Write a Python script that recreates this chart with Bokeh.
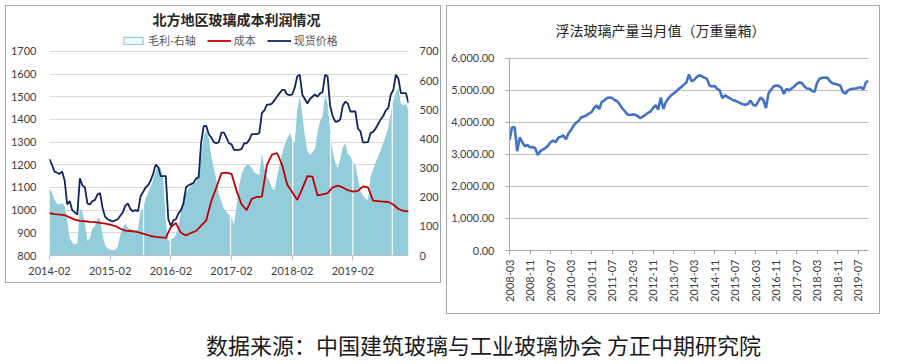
import numpy as np
from bokeh.plotting import figure
from bokeh.models import (Range1d, LinearAxis, FixedTicker, Legend, LegendItem,
                          NumeralTickFormatter, Label, Spacer)
from bokeh.layouts import row, column
from bokeh.embed import file_html
from bokeh.resources import INLINE

# ---------------- Left chart data (semi-monthly samples from 2014-02) ----------------
price = [1225, 1200, 1170, 1165, 1160, 1170, 1130, 1025, 1040, 1000,
         990, 980, 1140, 1110, 1100, 1030, 1025, 1040, 1045, 1070,
         1075, 1010, 970, 960, 955, 950, 955, 960, 975, 990,
         1020, 1030, 1005, 995, 1000, 995, 1060, 1080, 1100, 1110,
         1130, 1160, 1200, 1190, 1150, 1150, 1150, 960, 930, 955,
         960, 985, 1000, 1030, 1100, 1110, 1115, 1120, 1140, 1145,
         1300, 1370, 1372, 1335, 1320, 1300, 1295, 1300, 1342, 1342,
         1320, 1295, 1290, 1266, 1266, 1266, 1270, 1295, 1295, 1310,
         1335, 1335, 1335, 1340, 1428, 1440, 1465, 1465, 1470, 1485,
         1500, 1516, 1530, 1530, 1510, 1507, 1510, 1540, 1590, 1597,
         1509, 1490, 1470, 1490, 1500, 1510, 1500, 1515, 1520, 1597,
         1590, 1460, 1415, 1391, 1391, 1400, 1460, 1478, 1470, 1435,
         1435, 1435, 1360, 1347, 1299, 1299, 1300, 1340, 1345, 1360,
         1380, 1400, 1415, 1440, 1450, 1510, 1530, 1597, 1580, 1516,
         1516, 1516, 1472]

profit = [231, 215, 190, 178, 175, 180, 170, 120, 60, 45,
          38, 42, 160, 150, 110, 50, 60, 94, 100, 128,
          125, 70, 35, 25, 20, 18, 20, 30, 70, 95,
          110, 95, 90, 88, 85, 90, 150, 165, 195, 215,
          235, 260, 290, 305, 300, 260, 120, 50, 55, 60,
          70, 100, 150, 205, 215, 230, 240, 245, 250, 290,
          340, 410, 430, 400, 340, 300, 260, 210, 185, 160,
          150, 140, 130, 105, 170, 240, 280, 300, 310, 310,
          300, 285, 280, 275, 350, 300, 270, 255, 230, 225,
          270, 310, 350, 380, 400, 420, 400, 385, 500, 550,
          480, 410, 360, 345, 355, 365, 420, 460, 480, 550,
          520, 430, 360, 320, 300, 330, 370, 385, 350, 340,
          320, 310, 265, 220, 205, 195, 190, 270, 295, 320,
          340, 360, 385, 410, 440, 490, 530, 560, 575, 520,
          515, 520, 500]

# monthly cost from 2014-02
cost = [987, 982, 980, 978, 968, 958, 953, 951, 948, 947,
        944, 941, 936, 930, 918, 910, 908, 905, 900, 893,
        886, 882, 880, 878, 925, 943, 900, 888, 900, 908,
        932, 955, 1040, 1100, 1163, 1165, 1160, 1085, 1025, 1000,
        1050, 1058, 1060, 1200, 1245, 1252, 1200, 1113, 1080, 1045,
        1095, 1150, 1148, 1065, 1070, 1075, 1100, 1108, 1100, 1088,
        1082, 1085, 1105, 1100, 1042, 1040, 1038, 1036, 1025, 1005,
        997, 995]

# months (since 2014-02) of holiday weeks with no profit quote
profit_gap_months = [18.6, 23.9, 35.8, 48.1, 55.6, 60.0, 67.8]

left_tick_labels = ["2014-02", "2015-02", "2016-02", "2017-02", "2018-02", "2019-02"]

# ---------------- Right chart data (monthly from 2008-03) ----------------
output = [3450, 3850, 3850, 3100, 3530, 3380, 3250, 3300, 3220, 3230,
          3200, 2980, 3100, 3150, 3200, 3270, 3380, 3430, 3380, 3520,
          3550, 3590, 3470, 3660, 3760, 3900, 3990, 4050, 4160, 4180,
          4220, 4280, 4320, 4450, 4530, 4420, 4640, 4690, 4760, 4780,
          4760, 4700, 4660, 4560, 4430, 4350, 4250, 4230, 4250, 4240,
          4200, 4130, 4180, 4240, 4300, 4340, 4450, 4540, 4400, 4780,
          4420, 4640, 4750, 4840, 4900, 4960, 5050, 5100, 5180, 5250,
          5500, 5280, 5330, 5420, 5470, 5440, 5400, 5360, 5150, 5120,
          5140, 5050, 5000, 4760, 4840, 4800, 4750, 4700, 4680, 4640,
          4600, 4570, 4550, 4580, 4680, 4550, 4520, 4650, 4780, 4700,
          4450, 4900, 5020, 5120, 5150, 5140, 5080, 4890, 5050, 5000,
          5060, 5120, 5200, 5250, 5230, 5120, 5060, 5050, 4980, 4960,
          5250, 5370, 5390, 5400, 5390, 5280, 5220, 5200, 5180, 5150,
          4950, 4900, 5000, 5040, 5050, 5060, 5080, 5100, 5030, 5250,
          5300]

right_tick_labels = ["2008-03", "2008-11", "2009-07", "2010-03", "2010-11", "2011-07",
                     "2012-03", "2012-11", "2013-07", "2014-03", "2014-11", "2015-07",
                     "2016-03", "2016-11", "2017-07", "2018-03", "2018-11", "2019-07"]

CJK = "Noto Sans CJK SC"
NUM = "Lato"
LBL = "#404040"
BORDER = "#A6A6A6"

# ======================= Left figure =======================
# the plot frame reaches the top of the panel; the space above 1700 holds title and legend
t_half = np.arange(len(price)) * 0.5
t_month = np.arange(len(cost)) * 1.0
p1 = figure(width=436, height=278, output_backend="svg", toolbar_location=None,
            x_range=Range1d(0, t_half[-1]), y_range=Range1d(800, 1898),
            min_border_left=43, min_border_right=34, min_border_top=0, min_border_bottom=29)
p1.styles = {"border": "1px solid " + BORDER}
p1.outline_line_color = None

p1.extra_y_ranges = {"profit": Range1d(0, 854)}
p1.varea(x=t_half, y1=0, y2=profit, fill_color="#93CCDB", y_range_name="profit")
gap_top = np.interp(profit_gap_months, t_half, profit)
p1.segment(x0=profit_gap_months, y0=0, x1=profit_gap_months, y1=gap_top,
           line_color="white", line_width=1.2, y_range_name="profit")
cost_r = p1.line(t_month, cost, line_color="#C00000", line_width=1.8)
price_r = p1.line(t_half, price, line_color="#10245E", line_width=1.8)
dummy = p1.rect(x=[np.nan], y=[np.nan], width=1, height=1, fill_color="#F2F9FB",
                line_color="#93CCDB", line_width=1.2)

p1.xgrid.visible = False
p1.ygrid.grid_line_color = "#D9D9D9"
p1.ygrid.ticker = FixedTicker(ticks=list(range(800, 1701, 100)))

xa = p1.xaxis[0]
xa.ticker = FixedTicker(ticks=[12 * i for i in range(len(left_tick_labels))])
xa.major_label_overrides = {12 * i: s for i, s in enumerate(left_tick_labels)}
xa.axis_line_color = "#BFBFBF"
xa.major_tick_line_color = "#BFBFBF"
xa.major_tick_out = 5
xa.major_tick_in = 0
xa.minor_tick_line_color = None
xa.minor_tick_out = 0
xa.major_label_standoff = 6
xa.major_label_text_font = NUM
xa.major_label_text_font_size = "11px"
xa.major_label_text_color = LBL

ya = p1.yaxis[0]
ya.ticker = FixedTicker(ticks=list(range(800, 1701, 100)))
ya.axis_line_color = None
ya.major_tick_line_color = None
ya.minor_tick_line_color = None
ya.major_tick_out = 0
ya.minor_tick_out = 0
ya.major_label_standoff = 13
ya.major_label_text_font = NUM
ya.major_label_text_font_size = "11px"
ya.major_label_text_color = LBL

ra = LinearAxis(y_range_name="profit", ticker=FixedTicker(ticks=list(range(0, 701, 100))))
ra.axis_line_color = None
ra.major_tick_line_color = None
ra.minor_tick_line_color = None
ra.major_tick_out = 0
ra.minor_tick_out = 0
ra.major_label_standoff = 11
ra.major_label_text_font = NUM
ra.major_label_text_font_size = "11px"
ra.major_label_text_color = LBL
p1.add_layout(ra, "right")

p1.add_layout(Label(x=187, y=237, x_units="screen", y_units="screen",
                    text="北方地区玻璃成本利润情况", text_font=CJK,
                    text_font_size="14px", text_font_style="bold", text_color="#262626",
                    text_align="center", text_baseline="middle"))

legend = Legend(items=[LegendItem(label="毛利-右轴", renderers=[dummy]),
                       LegendItem(label="成本", renderers=[cost_r]),
                       LegendItem(label="现货价格", renderers=[price_r])],
                orientation="horizontal", location=(72, 207))
legend.label_text_font = CJK
legend.label_text_font_size = "11px"
legend.label_text_color = "#595959"
legend.glyph_width = 24
legend.glyph_height = 9
legend.label_height = 12
legend.label_standoff = 3
legend.spacing = 11
legend.padding = 0
legend.margin = 0
legend.border_line_color = None
legend.background_fill_alpha = 0
p1.add_layout(legend, "center")

# ======================= Right figure =======================
m = np.arange(len(output)) * 1.0
p2 = figure(width=434, height=309, output_backend="svg", toolbar_location=None,
            x_range=Range1d(0, m[-1]), y_range=Range1d(0, 7619),
            min_border_left=62, min_border_right=13, min_border_top=0, min_border_bottom=65)
p2.styles = {"border": "1px solid " + BORDER}
p2.outline_line_color = None

p2.line(m, output, line_color="#4472C4", line_width=2.6)

p2.xgrid.visible = False
p2.ygrid.grid_line_color = "#BFBFBF"
p2.ygrid.ticker = FixedTicker(ticks=list(range(0, 6001, 1000)))

xb = p2.xaxis[0]
xb.ticker = FixedTicker(ticks=[8 * i for i in range(len(right_tick_labels))])
xb.major_label_overrides = {8 * i: s for i, s in enumerate(right_tick_labels)}
xb.major_label_orientation = np.pi / 2
xb.axis_line_color = BORDER
xb.major_tick_line_color = BORDER
xb.major_tick_out = 4
xb.major_tick_in = 0
xb.minor_tick_line_color = None
xb.minor_tick_out = 0
xb.major_label_standoff = 5
xb.major_label_text_font = NUM
xb.major_label_text_font_size = "11px"
xb.major_label_text_color = LBL

yb = p2.yaxis[0]
yb.ticker = FixedTicker(ticks=list(range(0, 6001, 1000)))
yb.bounds = (0, 6000)
yb.formatter = NumeralTickFormatter(format="0,0.00")
yb.axis_line_color = BORDER
yb.major_tick_line_color = BORDER
yb.major_tick_out = 4
yb.major_tick_in = 0
yb.minor_tick_line_color = None
yb.minor_tick_out = 0
yb.major_label_standoff = 11
yb.major_label_text_font = NUM
yb.major_label_text_font_size = "11px"
yb.major_label_text_color = LBL

p2.add_layout(Label(x=151, y=221, x_units="screen", y_units="screen",
                    text="浮法玻璃产量当月值（万重量箱）", text_font=CJK,
                    text_font_size="14px", text_color="#262626",
                    text_align="center", text_baseline="middle"))

# ======================= Caption =======================
p3 = figure(width=880, height=46, output_backend="svg", toolbar_location=None,
            x_range=Range1d(0, 1), y_range=Range1d(0, 1), min_border=0)
p3.outline_line_color = None
p3.axis.visible = False
p3.grid.visible = False
p3.add_layout(Label(x=483, y=17, x_units="screen", y_units="screen",
                    text="数据来源：中国建筑玻璃与工业玻璃协会 方正中期研究院",
                    text_font=CJK, text_font_size="22px", text_color="#1A1A1A",
                    text_align="center", text_baseline="middle"))

layout = column(Spacer(height=5),
                row(Spacer(width=5), column(p1), Spacer(width=5), column(p2)),
                p3)
open("out.html", "w").write(file_html(layout, INLINE))
